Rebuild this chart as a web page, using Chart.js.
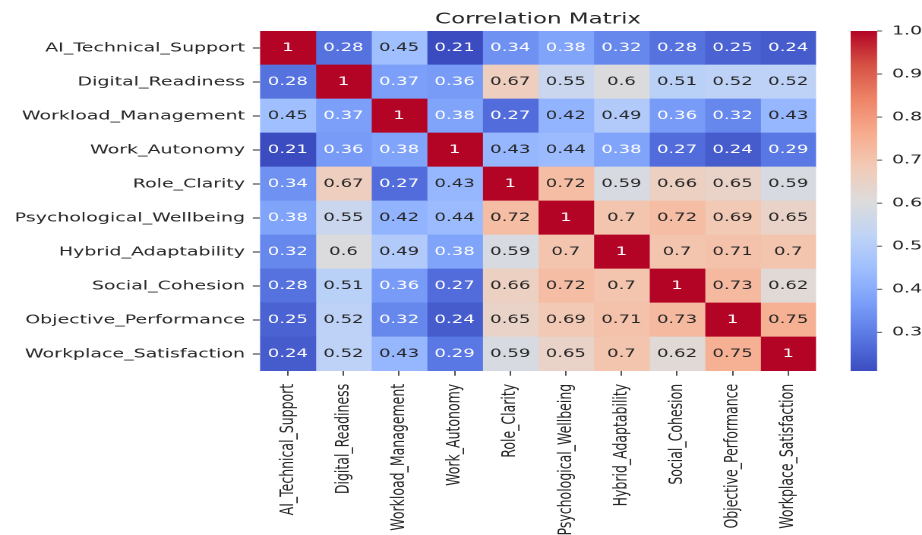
<!DOCTYPE html>
<html>
<head>
<meta charset="utf-8">
<script src="https://cdn.jsdelivr.net/npm/chart.js@4.4.1/dist/chart.umd.min.js"></script>
<style>
  html, body { margin: 0; padding: 0; background: #ffffff; overflow: hidden; }
  #stage { width: 607px; height: 535px; transform: scale(1.519, 1); transform-origin: 0 0; }
</style>
</head>
<body>
<div id="stage"><canvas id="heat" width="607" height="535"></canvas></div>
<script>
// Variable names: row labels, column labels and tick labels of the matrix
const variables = [
  'AI_Technical_Support', 'Digital_Readiness', 'Workload_Management', 'Work_Autonomy',
  'Role_Clarity', 'Psychological_Wellbeing', 'Hybrid_Adaptability', 'Social_Cohesion',
  'Objective_Performance', 'Workplace_Satisfaction'
];

// Pairwise correlations, one row per variable
const aiTechnicalSupport     = [1, 0.28, 0.45, 0.21, 0.34, 0.38, 0.32, 0.28, 0.25, 0.24];
const digitalReadiness       = [0.28, 1, 0.37, 0.36, 0.67, 0.55, 0.6, 0.51, 0.52, 0.52];
const workloadManagement     = [0.45, 0.37, 1, 0.38, 0.27, 0.42, 0.49, 0.36, 0.32, 0.43];
const workAutonomy           = [0.21, 0.36, 0.38, 1, 0.43, 0.44, 0.38, 0.27, 0.24, 0.29];
const roleClarity            = [0.34, 0.67, 0.27, 0.43, 1, 0.72, 0.59, 0.66, 0.65, 0.59];
const psychologicalWellbeing = [0.38, 0.55, 0.42, 0.44, 0.72, 1, 0.7, 0.72, 0.69, 0.65];
const hybridAdaptability     = [0.32, 0.6, 0.49, 0.38, 0.59, 0.7, 1, 0.7, 0.71, 0.7];
const socialCohesion         = [0.28, 0.51, 0.36, 0.27, 0.66, 0.72, 0.7, 1, 0.73, 0.62];
const objectivePerformance   = [0.25, 0.52, 0.32, 0.24, 0.65, 0.69, 0.71, 0.73, 1, 0.75];
const workplaceSatisfaction  = [0.24, 0.52, 0.43, 0.29, 0.59, 0.65, 0.7, 0.62, 0.75, 1];

// Colour bar tick values
const colorbarTicks = [0.3, 0.4, 0.5, 0.6, 0.7, 0.8, 0.9, 1.0];

const chartTitle = 'Correlation Matrix';

const matrix = [
  aiTechnicalSupport, digitalReadiness, workloadManagement, workAutonomy, roleClarity,
  psychologicalWellbeing, hybridAdaptability, socialCohesion, objectivePerformance, workplaceSatisfaction
];

const vmin = Math.min(...matrix.flat());
const vmax = Math.max(...matrix.flat());

// coolwarm colour map, sampled at 11 evenly spaced stops
const coolwarm = ['#3b4cc0', '#5977e3', '#7b9ff9', '#9ebeff', '#c0d4f5', '#dddcdc',
                  '#f2cbb7', '#f7ac8e', '#ee8468', '#d65244', '#b40426'];
const hexRgb = h => [1, 3, 5].map(k => parseInt(h.slice(k, k + 2), 16));
const stopsRgb = coolwarm.map(hexRgb);

function cmapRgb(v) {
  let t = (v - vmin) / (vmax - vmin);
  t = Math.max(0, Math.min(1, t));
  const p = t * (stopsRgb.length - 1);
  const i = Math.min(Math.floor(p), stopsRgb.length - 2);
  const f = p - i;
  return stopsRgb[i].map((c, k) => Math.round(c + (stopsRgb[i + 1][k] - c) * f));
}
const cmap = v => { const c = cmapRgb(v); return `rgb(${c[0]},${c[1]},${c[2]})`; };

function luminance(rgb) {
  const lin = rgb.map(c => { c /= 255; return c <= 0.03928 ? c / 12.92 : Math.pow((c + 0.055) / 1.055, 2.4); });
  return 0.2126 * lin[0] + 0.7152 * lin[1] + 0.0722 * lin[2];
}
const fmt = v => String(Number(v.toPrecision(2)));

const TEXT = '#262626';
const FONT = 'DejaVu Sans';

// One stacked dataset per column; each cell spans one unit on the hidden x scale
const datasets = variables.map((col, j) => ({
  label: col,
  data: variables.map(() => 1),
  backgroundColor: variables.map((_, i) => cmap(matrix[i][j])),
  borderWidth: 0,
  barPercentage: 1,
  categoryPercentage: 1,
  xAxisID: 'x',
  yAxisID: 'y'
}));

// Cell annotations
const annotate = {
  id: 'annotate',
  afterDatasetsDraw(chart) {
    const ctx = chart.ctx;
    ctx.save();
    ctx.font = `11.9px "${FONT}"`;
    ctx.textAlign = 'center';
    ctx.textBaseline = 'middle';
    chart.data.datasets.forEach((ds, j) => {
      chart.getDatasetMeta(j).data.forEach((el, i) => {
        const v = matrix[i][j];
        const p = el.getCenterPoint();
        ctx.fillStyle = luminance(cmapRgb(v)) > 0.408 ? TEXT : '#ffffff';
        ctx.fillText(fmt(v), p.x, p.y);
      });
    });
    ctx.restore();
  }
};

// Title centred over the cell grid
const gridTitle = {
  id: 'gridTitle',
  afterDraw(chart) {
    const a = chart.chartArea;
    const ctx = chart.ctx;
    ctx.save();
    ctx.font = `15.1px "${FONT}"`;
    ctx.fillStyle = TEXT;
    ctx.textAlign = 'center';
    ctx.textBaseline = 'alphabetic';
    ctx.fillText(chartTitle, (a.left + a.right) / 2, a.top - 7.5);
    ctx.restore();
  }
};

// Colour bar drawn against the 'cb' scale
const colorbar = {
  id: 'colorbar',
  afterDraw(chart) {
    const s = chart.scales.cb;
    const ctx = chart.ctx;
    const x0 = 560.0, x1 = 577.4;
    const yTop = s.getPixelForValue(vmax), yBot = s.getPixelForValue(vmin);
    const g = ctx.createLinearGradient(0, yBot, 0, yTop);
    coolwarm.forEach((c, k) => g.addColorStop(k / (coolwarm.length - 1), c));
    ctx.save();
    ctx.fillStyle = g;
    ctx.fillRect(x0, yTop, x1 - x0, yBot - yTop);
    ctx.strokeStyle = TEXT;
    ctx.lineWidth = 0.8;
    colorbarTicks.forEach(t => {
      const y = s.getPixelForValue(t);
      ctx.beginPath();
      ctx.moveTo(x1, y);
      ctx.lineTo(x1 + 3.3, y);
      ctx.stroke();
    });
    ctx.restore();
  }
};

new Chart(document.getElementById('heat'), {
  type: 'bar',
  data: { labels: variables, datasets },
  plugins: [annotate, colorbar, gridTitle],
  options: {
    responsive: false,
    animation: false,
    devicePixelRatio: 2,
    indexAxis: 'y',
    layout: { padding: { top: 31, left: 0, right: 0, bottom: 0 } },
    plugins: {
      legend: { display: false },
      tooltip: { enabled: false },
      title: { display: false }
    },
    scales: {
      x: { type: 'linear', stacked: true, min: 0, max: variables.length, display: false },
      y: {
        type: 'category',
        stacked: true,
        offset: true,
        grid: { offset: false, drawOnChartArea: false, drawTicks: true, tickLength: 4.8, tickColor: TEXT, tickWidth: 1 },
        border: { display: false },
        ticks: { color: TEXT, font: { family: FONT, size: 12.5 }, padding: 5.1, autoSkip: false },
        afterFit(scale) { scale.width = 171.2; scale.paddingTop = 0; scale.paddingBottom = 0; }
      },
      xl: {
        type: 'category',
        labels: variables,
        position: 'bottom',
        offset: true,
        grid: { offset: false, drawOnChartArea: false, drawTicks: true, tickLength: 4.8, tickColor: TEXT, tickWidth: 0.8 },
        border: { display: false },
        ticks: { color: TEXT, font: { family: FONT, size: 12.5 }, minRotation: 90, maxRotation: 90, autoSkip: false, padding: 8 },
        afterFit(scale) { scale.height = 164; }
      },
      cb: {
        type: 'linear',
        position: 'right',
        offset: false,
        min: vmin,
        max: vmax,
        grid: { display: false, offset: false, drawTicks: false, tickLength: 0 },
        border: { display: false },
        ticks: {
          color: TEXT,
          font: { family: FONT, size: 12.5 },
          padding: 50,
          callback: v => v.toFixed(1)
        },
        afterBuildTicks(scale) { scale.ticks = colorbarTicks.map(v => ({ value: v })); },
        afterFit(scale) { scale.width = 69.8; scale.paddingTop = 0; scale.paddingBottom = 0; }
      }
    }
  }
});
</script>
</body>
</html>
